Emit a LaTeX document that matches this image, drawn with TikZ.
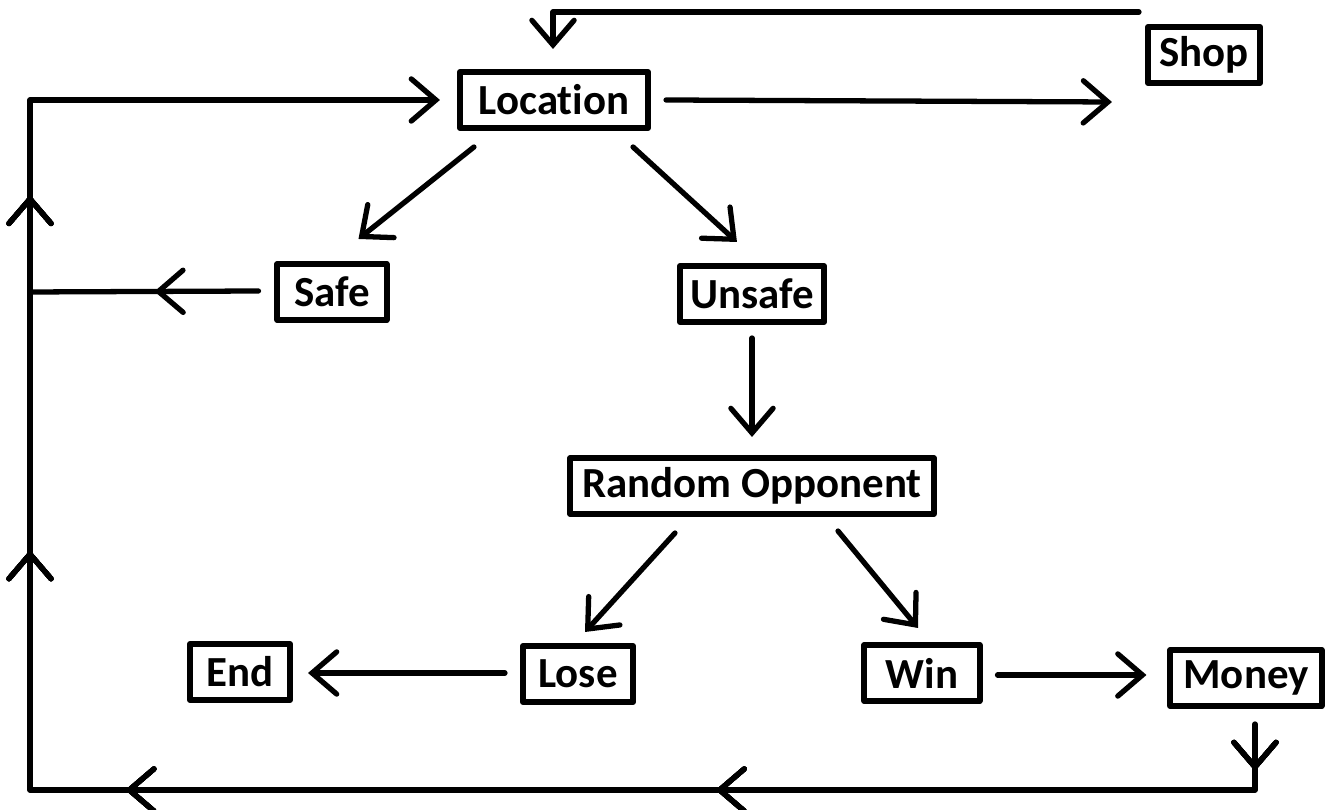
\documentclass[tikz,border=0pt]{standalone}
\usepackage{fontspec}
\setmainfont{Carlito}[RawFeature={-liga;-calt;-dlig}]
\usetikzlibrary{arrows.meta,decorations.markings}

\tikzset{
  box/.style={draw, line width=1.7pt, inner sep=0pt, minimum width=#1,
    minimum height=0.56cm, font=\fontsize{12.2}{14}\selectfont\bfseries},
  box/.default=1cm,
  wire/.style={line width=1.5pt},
  barb/.tip={Straight Barb[length=7pt,width=12pt,line width=1.5pt,line cap=round]},
  flow/.style={wire, -barb},
  midtip/.style={postaction={decorate}, decoration={markings,
    mark=at position #1 with {\arrow{barb}}}},
}

\begin{document}
\begin{tikzpicture}[x=0.01cm, y=-0.01cm, line cap=round, line join=round]
  \useasboundingbox (0,0) rectangle (1332,810);

  % boxes
  \node[box=1.12cm] (shop)   at (1204,55)  {Shop};
  \node[box=1.88cm] (loc)    at (554,100)  {Location};
  \node[box=1.09cm] (safe)   at (332,292)  {Safe};
  \node[box=1.44cm] (unsafe) at (752,294)  {Unsafe};
  \node[box=3.63cm] (rand)   at (752,486)  {Random Opponent};
  \node[box=1.00cm] (end)    at (240,672)  {End};
  \node[box=1.10cm] (lose)   at (578,674)  {Lose};
  \node[box=1.15cm] (win)    at (922,673)  {Win};
  \node[box=1.51cm] (money)  at (1246,678) {Money};

  % corners of the loop
  \coordinate (nw) at (30,100);
  \coordinate (sw) at (30,790);
  \coordinate (se) at (1255,790);

  % shop back to location
  \draw[flow] ([shift={(-6,-12)}]shop.north west) -| ([shift={(-1,-20)}]loc.north);
  \draw[flow] ([shift={(15,0)}]loc.east) -- ([shift={(-33,16)}]shop.south west);

  % location branches
  \draw[flow] ([shift={(17,16)}]loc.south west) -- ([shift={(84,-22)}]safe.north west);
  \draw[flow] ([shift={(-18,16)}]loc.south east) -- ([shift={(60,-21)}]unsafe.north west);
  \draw[flow] ([shift={(0,13)}]unsafe.south) -- ([shift={(0,-18)}]rand.north);

  % fight outcome
  \draw[flow] ([shift={(-77,16)}]rand.south) -- ([shift={(7,-11)}]lose.north);
  \draw[flow] ([shift={(86,14)}]rand.south) -- ([shift={(-4,-14)}]win.north);
  \draw[flow] ([shift={(-15,-1)}]lose.west) -- ([shift={(15,1)}]end.east);
  \draw[flow] ([shift={(15,2)}]win.east) -- ([shift={(-21,-3)}]money.west);

  % safe joins the loop
  \draw[wire, midtip=1.04cm] ([shift={(-16,-1)}]safe.west) -- (safe.west -| sw);

  % loop back to location
  \draw[flow, shorten >=0.17cm,
        midtip=0.47cm, midtip=6.05cm, midtip=11.95cm,
        midtip=15.3cm, midtip=18.85cm]
    ([shift={(9,15)}]money.south) -- (se) -- (sw) -- (nw) -- (loc.west |- nw);
\end{tikzpicture}
\end{document}
